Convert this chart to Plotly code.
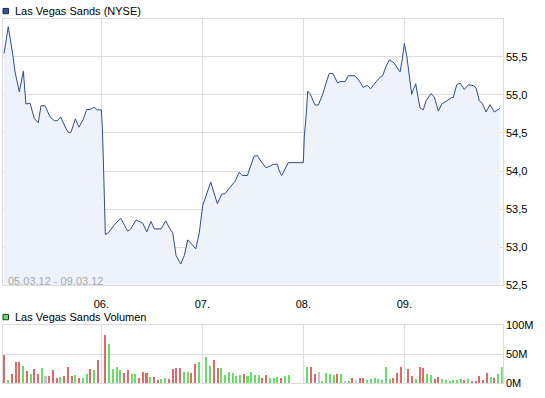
import plotly.graph_objects as go

W, H = 545, 398

# ---- price series (time in trading days from 05.03.12, value in USD) ----
price_t = [0.037, 0.079, 0.123, 0.146, 0.188, 0.228, 0.254, 0.294, 0.337, 0.376,
           0.403, 0.443, 0.492, 0.535, 0.564, 0.598, 0.648, 0.673, 0.700, 0.743,
           0.779, 0.822, 0.855, 0.888, 0.928, 0.960, 1.000, 1.010, 1.020, 1.030,
           1.040, 1.069, 1.136, 1.192, 1.261, 1.291, 1.344, 1.410, 1.450, 1.492,
           1.525, 1.591, 1.638, 1.680, 1.707, 1.740, 1.786, 1.822, 1.856, 1.895,
           1.935, 1.970, 2.004, 2.037, 2.083, 2.149, 2.192, 2.225, 2.274, 2.324,
           2.366, 2.396, 2.446, 2.512, 2.545, 2.581, 2.631, 2.670, 2.710, 2.743,
           2.762, 2.786, 2.851, 3.000, 3.010, 3.027, 3.044, 3.066, 3.116, 3.149,
           3.192, 3.225, 3.257, 3.291, 3.340, 3.363, 3.413, 3.446, 3.512, 3.554,
           3.594, 3.634, 3.667, 3.710, 3.766, 3.786, 3.816, 3.851, 3.898, 3.925,
           3.958, 3.980, 4.000, 4.024, 4.040, 4.056, 4.073, 4.089, 4.113, 4.139,
           4.156, 4.188, 4.215, 4.264, 4.297, 4.337, 4.370, 4.420, 4.469, 4.485,
           4.519, 4.552, 4.594, 4.634, 4.683, 4.710, 4.743, 4.772, 4.809, 4.849,
           4.891, 4.948]
price_v = [55.542, 55.893, 55.534, 55.301, 55.040, 55.310, 54.879, 54.892, 54.689, 54.634,
           54.857, 54.857, 54.710, 54.660, 54.660, 54.710, 54.562, 54.508, 54.508, 54.685,
           54.575, 54.680, 54.807, 54.807, 54.837, 54.803, 54.803, 54.584, 54.160, 53.780,
           53.168, 53.189, 53.304, 53.380, 53.210, 53.240, 53.358, 53.316, 53.202, 53.337,
           53.240, 53.240, 53.346, 53.240, 53.189, 52.893, 52.779, 52.893, 53.096, 53.041,
           52.978, 53.189, 53.548, 53.675, 53.856, 53.570, 53.696, 53.704, 53.789, 53.865,
           53.983, 53.941, 53.941, 54.195, 54.203, 54.127, 54.042, 54.068, 54.089, 54.089,
           54.001, 53.941, 54.110, 54.110, 54.457, 54.710, 55.048, 55.015, 54.866, 54.866,
           55.006, 55.154, 55.281, 55.281, 55.154, 55.174, 55.174, 55.250, 55.250, 55.183,
           55.098, 55.124, 55.078, 55.154, 55.238, 55.250, 55.364, 55.458, 55.420, 55.364,
           55.301, 55.471, 55.674, 55.513, 55.344, 55.217, 55.006, 55.069, 55.145, 54.942,
           54.828, 54.803, 54.921, 55.015, 54.972, 54.786, 54.879, 54.921, 54.964, 54.964,
           55.133, 55.154, 55.069, 55.133, 55.120, 55.091, 54.921, 54.888, 54.774, 54.870,
           54.774, 54.824]

# ---- volume, 15-minute bars per trading day (millions) ----
vol_day1 = [48.9, 5, 15, 36.7, 36.7, 30, 20, 15, 23.3, 15, 25, 11.7, 11.7, 21.7, 8.3, 10,
            11.7, 28.3, 11.7, 13.3, 8.3, 8.3, 15, 23.3, 21.7, 40]
dir_day1 = "rgrrrgrgrrgnrrrgrrrgrggrgr"
vol_day2 = [83.3, 66.7, 23.3, 28.3, 21.7, 16.7, 21.7, 15, 15, 8.3, 18.3, 16.7, 10, 10, 5,
            6.7, 8.3, 6.7, 23.3, 25, 25, 18.3, 18.3, 16.7, 33.3, 36.7]
dir_day2 = "rggggrrggrrrgrrggrrrrggrrg"
vol_day3 = [45, 30, 40, 25, 25, 13.3, 18.3, 16.7, 11.7, 13.3, 15, 11.7, 18.3, 13.3, 13.3,
            8.3, 13.3, 8.3, 8.3, 10, 8.3, 11.7, 13.3]
dir_day3 = "ggrrggggggrggggrrgggrgg"
vol_day4 = [28.3, 26.7, 15, 18.3, 3.3, 16.7, 15, 13.3, 15, 15, 1.7, 3.3, 8.3, 5, 8.3, 8.3,
            5.6, 7.3, 8.9, 7.3, 5.6, 28.3, 7.3, 8.9, 16.7, 28.3]
dir_day4 = "grrnggggrgngrnrrgggggggrrr"
vol_day5 = [23.3, 11.7, 6.7, 26.7, 25, 15, 13.3, 6.7, 10, 6.7, 5, 3.3, 5, 5, 6.7, 5, 6.7,
            3.3, 3.3, 11.7, 5, 16.7, 10, 8.3, 15, 28.3]
dir_day5 = "rrgrrggrrggggggrgrrrrrgrgg"

day_labels = ["06.", "07.", "08.", "09."]
price_ticks = [52.5, 53.0, 53.5, 54.0, 54.5, 55.0, 55.5]
price_ticktext = ["52,5", "53,0", "53,5", "54,0", "54,5", "55,0", "55,5"]
vol_ticks = [0, 50, 100]
vol_ticktext = ["0M", "50M", "100M"]

SLOTS = 27  # 15-minute slots per day on the time axis
colmap = {"r": "#e06a6a", "g": "#66dd66", "n": "#c4c4c4"}

vx, vy, vc = [], [], []
for d, (vals, dirs) in enumerate([(vol_day1, dir_day1), (vol_day2, dir_day2),
                                   (vol_day3, dir_day3), (vol_day4, dir_day4),
                                   (vol_day5, dir_day5)]):
    for i, (v, c) in enumerate(zip(vals, dirs)):
        vx.append(d + (i + 1) / SLOTS)
        vy.append(v)
        vc.append(colmap[c])

GRID = "#dcdcdc"
LINE = "#2f4c8c"
FONT = "Liberation Sans, Arial, sans-serif"

def px_x(p):
    return p / W

def px_y(p):
    return 1 - p / H

fig = go.Figure()
fig.add_trace(go.Scatter(x=price_t, y=price_v, mode="lines",
                         line=dict(color=LINE, width=1),
                         fill="tozeroy", fillcolor="#eef2fa",
                         xaxis="x", yaxis="y", hoverinfo="skip"))
fig.add_trace(go.Bar(x=vx, y=vy, marker=dict(color=vc, line=dict(width=0)),
                     width=0.02, xaxis="x2", yaxis="y2", hoverinfo="skip"))

xr = [0.0238, 4.974]
xdom = [px_x(2.7), px_x(502.7)]
axis_common = dict(showgrid=True, gridcolor=GRID, gridwidth=1, zeroline=False,
                   showline=True, linecolor=GRID, linewidth=1, mirror=True,
                   tickfont=dict(family=FONT, size=11, color="#000"))

fig.update_layout(
    width=W, height=H,
    margin=dict(l=0, r=0, t=0, b=0),
    paper_bgcolor="white", plot_bgcolor="white",
    showlegend=False,
    bargap=0,
    xaxis=dict(domain=xdom, range=xr, anchor="y",
               tickvals=[1, 2, 3, 4], ticktext=day_labels, ticks="",
               ticklabelstandoff=8, **axis_common),
    yaxis=dict(domain=[px_y(288), px_y(13)], range=[52.5, 56.0], anchor="x",
               side="right", tickvals=price_ticks, ticktext=price_ticktext,
               ticks="", ticklabelstandoff=0, **axis_common),
    xaxis2=dict(domain=xdom, range=xr, anchor="y2", matches="x",
                tickvals=[1, 2, 3, 4], showticklabels=False, ticks="", **axis_common),
    yaxis2=dict(domain=[px_y(389), px_y(329.3)], range=[0, 100], anchor="x2",
                side="right", tickvals=vol_ticks, ticktext=vol_ticktext,
                ticks="", ticklabelstandoff=0, **axis_common),
)

shapes = [
    dict(type="rect", xref="paper", yref="paper",
         x0=px_x(3), x1=px_x(8.5), y0=px_y(8), y1=px_y(2.5),
         fillcolor="#34548f", line=dict(color="#1a2a4a", width=1)),
    dict(type="rect", xref="paper", yref="paper",
         x0=px_x(3), x1=px_x(8.5), y0=px_y(323.5), y1=px_y(318),
         fillcolor="#66dd66", line=dict(color="#1f3a1f", width=1)),
]
fig.update_layout(shapes=shapes)

ann = [
    dict(text="Las Vegas Sands (NYSE)", x=px_x(13), y=px_y(5.5), xref="paper", yref="paper",
         xanchor="left", yanchor="middle", showarrow=False,
         font=dict(family=FONT, size=11, color="#000")),
    dict(text="Las Vegas Sands Volumen", x=px_x(13), y=px_y(320.5), xref="paper", yref="paper",
         xanchor="left", yanchor="middle", showarrow=False,
         font=dict(family=FONT, size=11, color="#000")),
    dict(text="05.03.12 - 09.03.12", x=px_x(5.5), y=px_y(284), xref="paper", yref="paper",
         xanchor="left", yanchor="middle", showarrow=False,
         font=dict(family=FONT, size=11, color="#a8a8a8")),
]
fig.update_layout(annotations=ann)

fig.write_html("out.html")
